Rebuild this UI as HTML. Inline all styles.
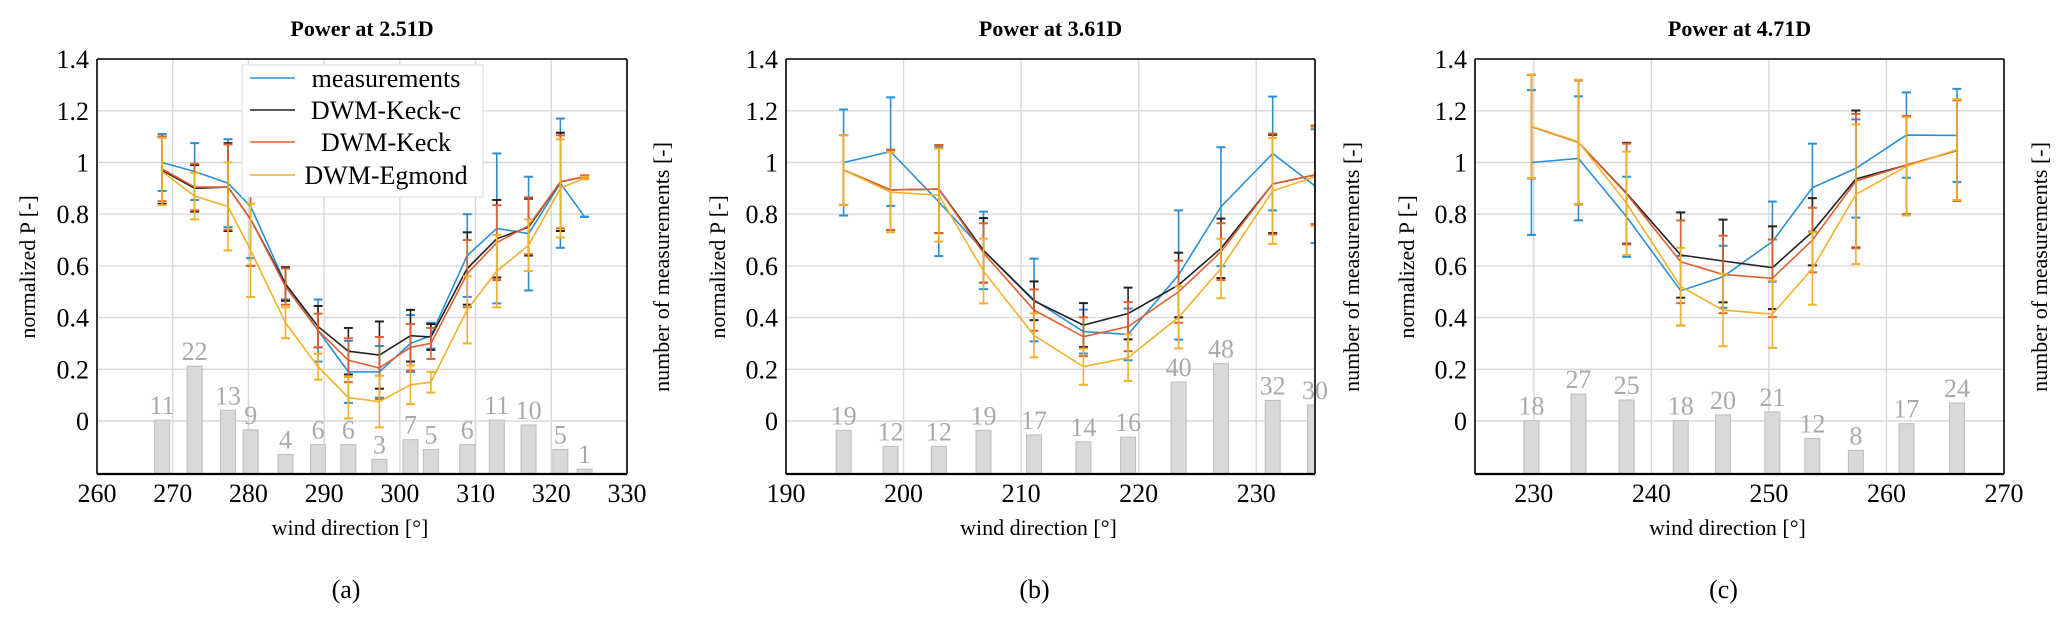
<!DOCTYPE html>
<html><head><meta charset="utf-8">
<style>
html,body{margin:0;padding:0;background:#fff;}
svg{display:block;}
svg text{font-family:"Liberation Serif","DejaVu Serif",serif;}
</style></head>
<body>
<svg id="fig" width="2067" height="623" viewBox="0 0 2067 623" xmlns="http://www.w3.org/2000/svg" font-family="Liberation Serif, serif"></svg>
<script>
// ---------- Panel (a) data ----------
const aDir    = [268.6,272.9,277.3,280.3,284.9,289.2,293.2,297.3,301.4,304.1,308.9,312.8,317.0,321.2,324.4];
const aCounts = [11,22,13,9,4,6,6,3,7,5,6,11,10,5,1];
const aMeas   = [1.0,0.965,0.92,0.83,0.53,0.35,0.19,0.19,0.30,0.33,0.64,0.745,0.725,0.92,0.79];
const aKeckC  = [0.97,0.90,0.905,0.78,0.53,0.365,0.27,0.255,0.33,0.325,0.59,0.705,0.75,0.925,0.945];
const aKeck   = [0.975,0.905,0.905,0.78,0.52,0.35,0.235,0.205,0.285,0.30,0.57,0.69,0.755,0.925,0.945];
const aEgm    = [0.965,0.87,0.83,0.66,0.38,0.21,0.09,0.075,0.14,0.15,0.43,0.58,0.68,0.90,0.94];
const aErrMeas  = [0.11,0.11,0.17,0.2,0.06,0.12,0.12,0.1,0.11,0.05,0.16,0.29,0.22,0.25,0.0];
const aErrKeckC = [0.13,0.09,0.17,0.18,0.065,0.08,0.09,0.13,0.1,0.05,0.14,0.15,0.11,0.19,0.005];
const aErrKeck  = [0.125,0.09,0.165,0.18,0.07,0.065,0.085,0.12,0.09,0.06,0.13,0.145,0.11,0.18,0.005];
const aErrEgm   = [0.13,0.09,0.17,0.18,0.06,0.05,0.08,0.1,0.075,0.04,0.13,0.14,0.1,0.19,0.005];
const aXTicks = [260,270,280,290,300,310,320,330];
// ---------- Panel (b) data ----------
const bDir    = [194.9,198.9,203.0,206.8,211.1,215.3,219.1,223.4,227.0,231.4,235.0];
const bCounts = [19,12,12,19,17,14,16,40,48,32,30];
const bMeas   = [1.0,1.042,0.848,0.66,0.468,0.346,0.335,0.565,0.829,1.035,0.909];
const bKeckC  = [0.971,0.894,0.897,0.66,0.465,0.371,0.416,0.526,0.668,0.917,0.952];
const bKeck   = [0.971,0.894,0.897,0.65,0.429,0.326,0.365,0.50,0.655,0.917,0.952];
const bEgm    = [0.971,0.885,0.874,0.58,0.331,0.21,0.245,0.401,0.59,0.89,0.945];
const bErrMeas  = [0.205,0.21,0.21,0.15,0.16,0.085,0.1,0.25,0.23,0.22,0.22];
const bErrKeckC = [0.135,0.155,0.17,0.125,0.075,0.085,0.1,0.125,0.115,0.19,0.19];
const bErrKeck  = [0.135,0.155,0.17,0.115,0.08,0.075,0.095,0.12,0.11,0.195,0.19];
const bErrEgm   = [0.135,0.155,0.18,0.125,0.085,0.07,0.09,0.12,0.115,0.205,0.19];
const bXTicks = [190,200,210,220,230];
// ---------- Panel (c) data ----------
const cDir    = [229.8,233.8,237.9,242.5,246.1,250.3,253.7,257.4,261.7,266.0];
const cCounts = [18,27,25,18,20,21,12,8,17,24];
const cMeas   = [1.0,1.016,0.79,0.504,0.558,0.694,0.903,0.977,1.106,1.105];
const cKeckC  = [1.139,1.078,0.881,0.642,0.619,0.593,0.732,0.936,0.99,1.046];
const cKeck   = [1.139,1.078,0.878,0.616,0.567,0.552,0.70,0.928,0.99,1.046];
const cEgm    = [1.14,1.08,0.842,0.52,0.429,0.413,0.59,0.877,0.985,1.05];
const cErrMeas  = [0.28,0.24,0.155,0.135,0.12,0.155,0.17,0.19,0.165,0.18];
const cErrKeckC = [0.2,0.24,0.195,0.165,0.16,0.16,0.13,0.265,0.19,0.195];
const cErrKeck  = [0.2,0.24,0.195,0.16,0.15,0.15,0.125,0.26,0.19,0.195];
const cErrEgm   = [0.2,0.24,0.2,0.15,0.14,0.13,0.14,0.27,0.19,0.195];
const cXTicks = [230,240,250,260,270];
// shared
const yTicks = [0,0.2,0.4,0.6,0.8,1,1.2,1.4];
const yTickLabels = ["0","0.2","0.4","0.6","0.8","1","1.2","1.4"];
const seriesNames = ["measurements","DWM-Keck-c","DWM-Keck","DWM-Egmond"];

const NS="http://www.w3.org/2000/svg";
const svg=document.getElementById('fig');
const COLORS=["#2b8fd5","#222222","#e0602f","#f2b128"];
const FONT="'Liberation Serif', 'DejaVu Serif', serif";
function mk(tag,attrs,parent){const e=document.createElementNS(NS,tag);for(const k in attrs)e.setAttribute(k,attrs[k]);(parent||svg).appendChild(e);return e;}
function txt(s,attrs,parent){attrs['font-family']=FONT;const e=mk('text',attrs,parent);e.textContent=s;return e;}

const TOP=59, BOT=474;
function yv(v){return 421 - v*258.5;}

const panels=[
 {id:'a',L:97,R:627,x0:260,x1:330,dir:aDir,counts:aCounts,cpp:4.9,xt:aXTicks,title:"Power at 2.51D",
  ser:[aMeas,aKeckC,aKeck,aEgm],err:[aErrMeas,aErrKeckC,aErrKeck,aErrEgm],ylx:27,yrx:661,legend:true},
 {id:'b',L:786,R:1315,x0:190,x1:235,dir:bDir,counts:bCounts,cpp:2.3,xt:bXTicks,title:"Power at 3.61D",
  ser:[bMeas,bKeckC,bKeck,bEgm],err:[bErrMeas,bErrKeckC,bErrKeck,bErrEgm],ylx:717,yrx:1351},
 {id:'c',L:1475,R:2004,x0:225,x1:270,dir:cDir,counts:cCounts,cpp:2.96,xt:cXTicks,title:"Power at 4.71D",
  ser:[cMeas,cKeckC,cKeck,cEgm],err:[cErrMeas,cErrKeckC,cErrKeck,cErrEgm],ylx:1406,yrx:2039}
];

panels.forEach(p=>{
  const xs=d=>p.L+(d-p.x0)/(p.x1-p.x0)*(p.R-p.L);
  const g=mk('g',{});
  
  
  const defs=mk('defs',{},g);
  const cp=mk('clipPath',{id:'clip-'+p.id},defs);
  mk('rect',{x:p.L,y:TOP,width:p.R-p.L,height:BOT-TOP},cp);
  const cx=(p.L+p.R)/2;
  const t=txt(p.title,{x:cx,y:36,'text-anchor':'middle','font-size':22,'font-weight':'bold',fill:'#000'},g);
  
  
  const grid=mk('g',{stroke:'#d9d9d9','stroke-width':1.4},g);
  
  
  p.xt.forEach(v=>{const x=xs(v); if(x>p.L+1&&x<p.R-1) mk('line',{x1:x,x2:x,y1:TOP,y2:BOT},grid);});
  yTicks.forEach(v=>{mk('line',{x1:p.L,x2:p.R,y1:yv(v),y2:yv(v)},grid);});
  yTicks.forEach((v,i)=>{
    const e=txt(yTickLabels[i],{x:p.L-8,y:yv(v)+9,'text-anchor':'end','font-size':26,fill:'#000'},g);
    
    
  });
  p.xt.forEach(v=>{
    const e=txt(String(v),{x:xs(v),y:502,'text-anchor':'middle','font-size':26,fill:'#000'},g);
    
    
  });
  const clipG=mk('g',{'clip-path':'url(#clip-'+p.id+')'},g);
  p.counts.forEach((c,i)=>{
    const x=xs(p.dir[i]); const h=c*p.cpp;
    const r=mk('rect',{x:x-7.5,y:BOT-h,width:15,height:h,fill:'#d9d9d9',stroke:'#bdbdbd','stroke-width':1},clipG);
    
    
    const l=txt(String(c),{x:x,y:BOT-h-6,'text-anchor':'middle','font-size':26,fill:'#a9a9a9'},g);
    
    
  });
  p.ser.forEach((vals,si)=>{
    const sg=mk('g',{stroke:COLORS[si],'stroke-width':1.6,fill:'none'},clipG);
    
    
    const pts=vals.map((v,i)=>xs(p.dir[i]).toFixed(1)+','+yv(v).toFixed(1)).join(' ');
    const pl=mk('polyline',{points:pts},sg);
    
    
    vals.forEach((v,i)=>{
      const x=xs(p.dir[i]), e=p.err[si][i];
      const eg=mk('g',{},sg);
      
      
      mk('line',{x1:x,x2:x,y1:yv(v-e),y2:yv(v+e)},eg);
      mk('line',{x1:x-4.5,x2:x+4.5,y1:yv(v-e),y2:yv(v-e),'stroke-width':2},eg);
      mk('line',{x1:x-4.5,x2:x+4.5,y1:yv(v+e),y2:yv(v+e),'stroke-width':2},eg);
    });
  });
  mk('line',{x1:p.L,x2:p.L,y1:TOP,y2:BOT,stroke:'#000','stroke-width':1.6},g);
  mk('line',{x1:p.R,x2:p.R,y1:TOP,y2:BOT,stroke:'#000','stroke-width':1.6},g);
  mk('line',{x1:p.L,x2:p.R,y1:TOP,y2:TOP,stroke:'#000','stroke-width':1.6},g);
  mk('line',{x1:p.L,x2:p.R,y1:BOT,y2:BOT,stroke:'#000','stroke-width':2.2},g);
  const xl=txt("wind direction [°]",{x:cx-12,y:535,'text-anchor':'middle','font-size':22,fill:'#000'},g);
  
  
  const yl=txt("normalized P [-]",{x:0,y:0,'text-anchor':'middle','font-size':22,fill:'#000',transform:`translate(${p.ylx+8},267) rotate(-90)`},g);
  
  
  const yr=txt("number of measurements [-]",{x:0,y:0,'text-anchor':'middle','font-size':22,fill:'#000',transform:`translate(${p.yrx+8},267) rotate(-90)`},g);
  
  
  const sub=txt('('+p.id+')',{x:cx-16,y:598,'text-anchor':'middle','font-size':26,fill:'#000'},g);
  
  
  if(p.legend){
    const lg=mk('g',{},g);
    
    
    mk('rect',{x:242,y:65,width:241,height:132,fill:'#fff',stroke:'#dddddd','stroke-width':1},lg);
    const ys=[78,110,142,175];
    seriesNames.forEach((n,i)=>{
      const le=mk('g',{},lg);
      
      
      mk('line',{x1:250,x2:295,y1:ys[i],y2:ys[i],stroke:COLORS[i],'stroke-width':1.6},le);
      txt(n,{x:386,y:ys[i]+9,'text-anchor':'middle','font-size':26,fill:'#000'},le);
    });
  }
});
</script>
</body></html>
